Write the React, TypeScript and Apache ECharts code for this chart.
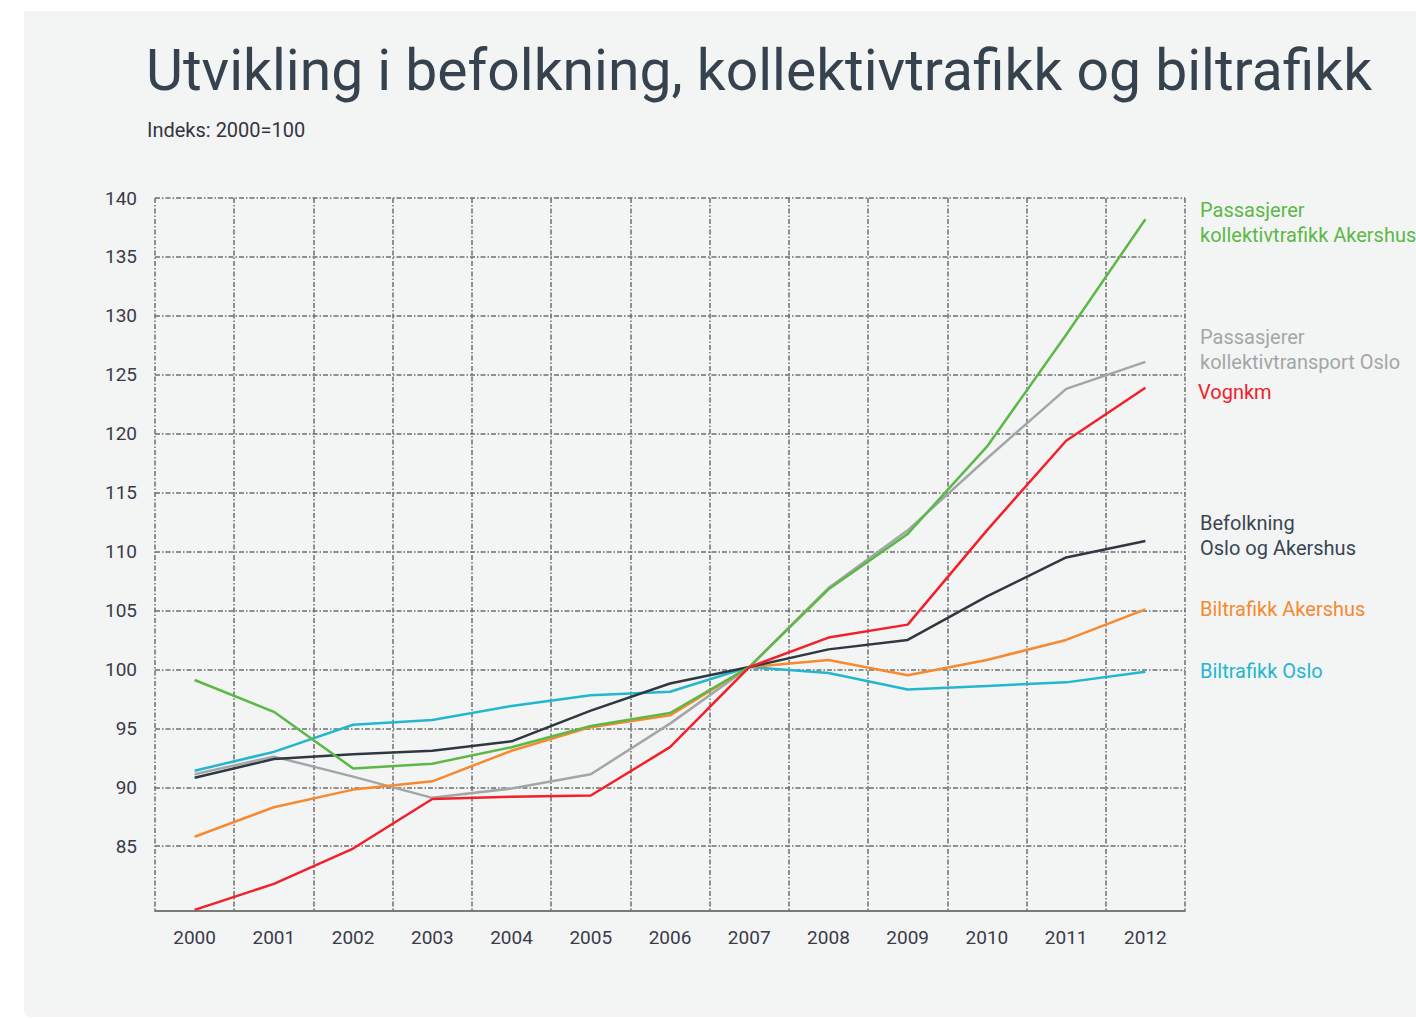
import React, { useEffect, useRef } from 'react';
import * as echarts from 'echarts';

const years = ['2000', '2001', '2002', '2003', '2004', '2005', '2006', '2007', '2008', '2009', '2010', '2011', '2012'];
const kollektivAkershus = [99.1, 96.4, 91.6, 92.0, 93.4, 95.2, 96.3, 100.2, 106.8, 111.5, 118.9, 128.4, 138.2];
const kollektivOslo = [91.1, 92.6, 90.9, 89.1, 89.9, 91.1, 95.4, 100.2, 106.9, 111.8, 117.9, 123.8, 126.1];
const vognkm = [79.6, 81.8, 84.8, 89.0, 89.2, 89.3, 93.4, 100.2, 102.7, 103.8, 111.8, 119.4, 123.9];
const befolkning = [90.8, 92.4, 92.8, 93.1, 93.9, 96.5, 98.8, 100.2, 101.7, 102.5, 106.2, 109.5, 110.9];
const biltrafikkAkershus = [85.8, 88.3, 89.8, 90.5, 93.1, 95.1, 96.1, 100.2, 100.8, 99.5, 100.8, 102.5, 105.1];
const biltrafikkOslo = [91.4, 93.0, 95.3, 95.7, 96.9, 97.8, 98.1, 100.2, 99.7, 98.3, 98.6, 98.9, 99.8];
const yTicks = [85, 90, 95, 100, 105, 110, 115, 120, 125, 130, 135, 140];

const FONT = "Roboto, sans-serif";

const C = {
  green: '#5cb847',
  gray: '#a3a6a8',
  red: '#f2202a',
  dark: '#2f3841',
  orange: '#f7892f',
  cyan: '#23b7cf',
};

export default function App() {
  const ref = useRef<HTMLDivElement>(null);
  useEffect(() => {
    const chart = echarts.init(ref.current!, null, { renderer: 'svg' });
    const mk = (name: string, data: number[], color: string, z: number) => ({
      name,
      type: 'line',
      data,
      symbol: 'none',
      z,
      lineStyle: { color, width: 2.5 },
      itemStyle: { color },
    });
    const lbl = (text: string, x: number, y: number, color: string) => ({
      type: 'text',
      x,
      y,
      style: { text, fill: color, font: `20px ${FONT}`, textVerticalAlign: 'middle', lineHeight: 25 },
      z: 10,
    });
    chart.setOption({
      animation: false,
      backgroundColor: '#ffffff',
      textStyle: { fontFamily: FONT },
      grid: { left: 155, right: 231, top: 198, bottom: 108, containLabel: false },
      graphic: [
        { type: 'rect', shape: { x: 24, y: 11, width: 1400, height: 1006, r: [0, 0, 0, 6] }, style: { fill: '#f3f4f4' }, z: -10 },
        { type: 'text', x: 146, y: 70, style: { text: 'Utvikling i befolkning, kollektivtrafikk og biltrafikk', fill: '#36424d', font: `57px ${FONT}`, textVerticalAlign: 'middle' } },
        { type: 'text', x: 147, y: 130, style: { text: 'Indeks: 2000=100', fill: '#353540', font: `20px ${FONT}`, textVerticalAlign: 'middle' } },
        lbl('Passasjerer\nkollektivtrafikk Akershus', 1200, 222, C.green),
        lbl('Passasjerer\nkollektivtransport Oslo', 1200, 349, C.gray),
        lbl('Vognkm', 1198, 392, C.red),
        lbl('Befolkning\nOslo og Akershus', 1200, 535, '#3a4652'),
        lbl('Biltrafikk Akershus', 1200, 609, C.orange),
        lbl('Biltrafikk Oslo', 1200, 671, C.cyan),
      ],
      xAxis: {
        type: 'category',
        data: years,
        boundaryGap: true,
        axisLine: { show: true, lineStyle: { color: '#7a7a7a', width: 2 } },
        axisTick: { show: false },
        axisLabel: { color: '#3a3a4a', fontSize: 19, margin: 17, fontFamily: FONT },
        splitLine: { show: true, lineStyle: { color: '#6e6e6e', width: 1.5, type: [5, 2, 1.5, 2] } },
      },
      yAxis: {
        type: 'value',
        min: 79.5,
        max: 140,
        axisLine: { show: false },
        axisTick: { show: false, customValues: yTicks },
        axisLabel: { color: '#3a3a4a', fontSize: 19, margin: 18, fontFamily: FONT, customValues: yTicks },
        splitLine: { show: true, lineStyle: { color: '#6e6e6e', width: 1.5, type: [5, 2, 1.5, 2] } },
      },
      series: [
        mk('Passasjerer kollektivtransport Oslo', kollektivOslo, C.gray, 2),
        mk('Biltrafikk Oslo', biltrafikkOslo, C.cyan, 3),
        mk('Biltrafikk Akershus', biltrafikkAkershus, C.orange, 4),
        mk('Befolkning Oslo og Akershus', befolkning, C.dark, 5),
        mk('Passasjerer kollektivtrafikk Akershus', kollektivAkershus, C.green, 6),
        mk('Vognkm', vognkm, C.red, 7),
      ],
    });
    return () => chart.dispose();
  }, []);
  return <div ref={ref} style={{ position: 'absolute', left: 0, top: 0, width: 1416, height: 1019 }} />;
}
